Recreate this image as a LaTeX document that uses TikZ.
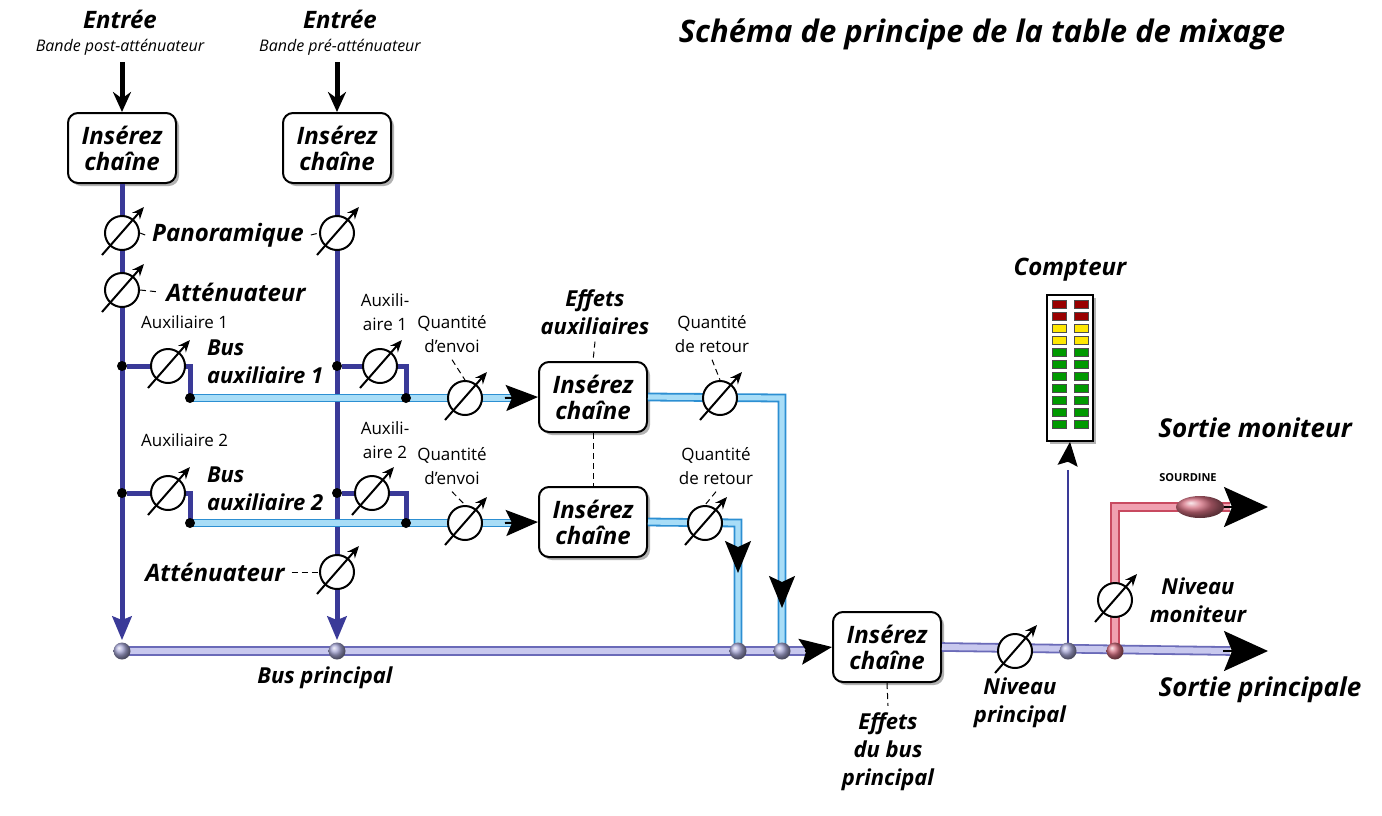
\documentclass[tikz,border=0pt]{standalone}
\usepackage{fontspec}
\setmainfont{Open Sans}
\usetikzlibrary{arrows.meta,shadows,shapes.geometric}
\definecolor{pur}{HTML}{3A3A98}
\definecolor{bluedk}{HTML}{2C8FD2}
\definecolor{bluelt}{HTML}{A8DDF7}
\definecolor{lavdk}{HTML}{6A6AB8}
\definecolor{lavlt}{HTML}{C8C8EE}
\definecolor{reddk}{HTML}{C84A60}
\definecolor{redlt}{HTML}{F0A0B0}
\tikzset{
  every node/.style={font=\bfseries\itshape\fontsize{12}{13}\selectfont},
  pline/.style={draw=pur,line width=2.5pt},
  thin/.style={draw=pur,line width=1.2pt},
  bbus/.style={draw=bluedk,double=bluelt,double distance=2.6pt,line width=0.9pt},
  mbus/.style={draw=lavdk,double=lavlt,double distance=3pt,line width=0.9pt},
  rbus/.style={draw=reddk,double=redlt,double distance=2.8pt,line width=0.9pt},
  big/.style={-{Stealth[length=16pt,width=13pt,inset=3pt]},line width=1pt,draw=black},
  huge/.style={-{Stealth[length=22pt,width=20pt,inset=4pt]},line width=1pt,draw=black},
  med/.style={-{Stealth[length=12pt,width=10pt,inset=2pt]},line width=1pt},
  pot/.style={circle,draw,line width=1pt,minimum size=17pt,inner sep=0pt,fill=white},
  box/.style={draw,rounded corners=5pt,line width=1pt,fill=white,minimum width=54pt,minimum height=35pt,inner sep=1pt,align=center,drop shadow={shadow xshift=1.5pt,shadow yshift=-1.5pt,fill=black!60}},
  lbl/.style={font=\itshape\fontsize{8}{10}\selectfont,align=center},
  nlbl/.style={font=\fontsize{8.5}{12}\selectfont,align=center},
  bl/.style={font=\bfseries\itshape\fontsize{11}{14}\selectfont,align=center},
  lead/.style={densely dashed,line width=0.5pt},
  dot/.style={circle,fill=black,inner sep=0pt,minimum size=5pt},
  ball/.style={circle,inner sep=0pt,minimum size=8.5pt,shading=ball,ball color=#1},
  led/.style={draw=black!70,line width=0.3pt,fill=#1,minimum width=7pt,minimum height=4pt,inner sep=0pt},
}
\newcommand\potat[2]{\node[pot] (#1) at (#2) {};
  \draw[line width=1pt,-{Stealth[length=6pt,width=5pt]}] ([shift={(-20,22)}]#1.center) -- ([shift={(22,-26)}]#1.center);}
\begin{document}
\begin{tikzpicture}[x=0.5pt,y=-0.5pt]
\useasboundingbox (0,0) rectangle (1382,815);
% title
\node[font=\bfseries\itshape\fontsize{15.5}{18}\selectfont] (title) at (982,34) {Schéma de principe de la table de mixage};
% inputs
\node (e1) at (120,19) {Entrée};
\node[lbl] (e1s) at (120,47) {Bande post-atténuateur};
\node (e2) at (340,19) {Entrée};
\node[lbl] (e2s) at (340,47) {Bande pré-atténuateur};
\node[box] (b1) at (122,148) {Insérez\\chaîne};
\node[box] (b2) at (337,148) {Insérez\\chaîne};
\draw[line width=2.5pt,-{Stealth[length=10pt,width=9pt]}] (122,62) -- (b1.north);
\draw[line width=2.5pt,-{Stealth[length=10pt,width=9pt]}] (337,62) -- (b2.north);
% bus coordinates
\coordinate (m1) at (122,651); \coordinate (m2) at (337,651);
\coordinate (m3) at (738,651); \coordinate (m4) at (782,651);
\coordinate (a1l) at (190,398); \coordinate (a1r) at (406,398);
\coordinate (a2l) at (190,523); \coordinate (a2r) at (406,523);
% verticals
\draw[pline] (b1.south) -- (122,620);
\draw[pline] (b2.south) -- (337,620);
\draw[med,draw=pur] (122,615) -- (122,640);
\draw[med,draw=pur] (337,615) -- (337,640);
% aux branches
\node[dot] (d11) at (122,366) {}; \node[dot] (d12) at (337,366) {};
\node[dot] (d21) at (122,493) {}; \node[dot] (d22) at (337,493) {};
\draw[pline] (d11) -- (190,366) -- (a1l);
\draw[pline] (d12) -- (406,366) -- (a1r);
\draw[pline] (d21) -- (190,493) -- (a2l);
\draw[pline] (d22) -- (406,493) -- (a2r);
% boxes
\node[box] (fx1) at (593,397) {Insérez\\chaîne};
\node[box] (fx2) at (593,522) {Insérez\\chaîne};
\node[box] (fxm) at (887,647) {Insérez\\chaîne};
% aux buses
\draw[bbus] (a1l) -- (515,398);
\draw[big] (505,398) -- (fx1.west);
\draw[bbus] (a2l) -- (515,523);
\draw[big] (505,523) -- (fx2.west);
\node[dot] at (a1l) {}; \node[dot] at (a1r) {};
\node[dot] at (a2l) {}; \node[dot] at (a2r) {};
% returns
\draw[bbus] (fx1.east) -- (782,398) -- (m4);
\draw[big] (782,585) -- (782,608);
\draw[bbus] (fx2.east) -- (738,523) -- (m3);
\draw[big] (738,550) -- (738,573);
% main bus
\draw[mbus] (m1) -- (815,651);
\draw[big] (805,651) -- (fxm.west);
\draw[mbus] (fxm.east) -- (1230,651);
\draw[huge] (1223,651) -- (1268,651);
\node[ball=lavdk!60] at (m1) {}; \node[ball=lavdk!60] at (m2) {};
\node[ball=lavdk!60] at (m3) {}; \node[ball=lavdk!60] at (m4) {};
% pots
\potat{p1}{122,233} \potat{p2}{122,290} \potat{p3}{337,233}
\potat{p4}{168,366} \potat{p5}{380,366}
\potat{p6}{168,493} \potat{p7}{372,493}
\potat{p8}{465,398} \potat{p9}{465,523}
\potat{p10}{720,398} \potat{p11}{705,523}
\potat{p12}{337,572}
% labels
\node (pan) at (228,235) {Panoramique};
\draw[lead] (p1.east) -- (pan.west); \draw[lead] (pan.east) -- (p3.west);
\node (att1) at (236,292) {Atténuateur};
\draw[lead] (p2.east) -- (att1.west);
\node (att2) at (215,572) {Atténuateur};
\draw[lead] (att2.east) -- (p12.west);
\node[nlbl,anchor=west] (ax1) at (134,322) {Auxiliaire 1};
\node[nlbl,anchor=west] (ax2) at (134,440) {Auxiliaire 2};
\node[bl,anchor=west,align=left] (ba1) at (200,362) {Bus\\auxiliaire 1};
\node[bl,anchor=west,align=left] (ba2) at (200,489) {Bus\\auxiliaire 2};
\node[nlbl] (ax1r) at (385,312) {Auxili-\\aire 1};
\node[nlbl] (ax2r) at (385,440) {Auxili-\\aire 2};
\node[nlbl] (qe1) at (452,334) {Quantité\\d’envoi};
\node[nlbl] (qe2) at (452,466) {Quantité\\d’envoi};
\node[nlbl] (qr1) at (712,334) {Quantité\\de retour};
\node[nlbl] (qr2) at (716,466) {Quantité\\de retour};
\draw[lead] (qe1.south) -- (p8.north); \draw[lead] (qe2.south) -- (p9.north);
\draw[lead] (qr1.south) -- (p10.north); \draw[lead] (qr2.south) -- (p11.north);
\node[bl] (efa) at (595,312) {Effets\\auxiliaires};
\draw[lead] (efa.south) -- (fx1.north);
\draw[lead] (fx1.south) -- (fx2.north);
\node[bl] (bp) at (325,678) {Bus principal};
\node[bl] (efm) at (888,752) {Effets\\du bus\\principal};
\draw[lead] (fxm.south) -- (efm.north);
% output section
\potat{p13}{1015,651}
\node[bl] (np) at (1020,703) {Niveau\\principal};
\coordinate (m5) at (1068,651); \coordinate (m6) at (1115,651);
\node[draw,fill=white,line width=0.8pt,minimum width=23pt,minimum height=73pt,inner sep=0pt,drop shadow={shadow xshift=1.5pt,shadow yshift=-1.5pt,fill=black!60}] (meter) at (1070,368) {};
\foreach \i/\c in {0/red!60!black,1/red!60!black,2/yellow!90!orange,3/yellow!90!orange,4/green!60!black,5/green!60!black,6/green!60!black,7/green!60!black,8/green!60!black,9/green!60!black,10/green!60!black}{
  \node[led=\c] at (1059,304+12*\i) {};
  \node[led=\c] at (1081,304+12*\i) {};
}
\node (cpt) at (1070,270) {Compteur};
\draw[thin] (m5) -- (1068,470);
\draw[med] (1068,462) -- (meter.south);
\draw[rbus] (m6) -- (1115,507) -- (1230,507);
\draw[huge] (1223,507) -- (1268,507);
\node[ellipse,minimum width=24pt,minimum height=11pt,inner sep=0pt,shading=ball,ball color=reddk!80] (mute) at (1200,507) {};
\node[font=\bfseries\fontsize{5.5}{6}\selectfont] (sd) at (1188,478) {SOURDINE};
\potat{p14}{1115,600}
\node[ball=lavdk!60] at (m5) {}; \node[ball=reddk!80] at (m6) {};
\node[bl] (nm) at (1198,600) {Niveau\\moniteur};
\node[font=\bfseries\itshape\fontsize{13}{15}\selectfont] (smo) at (1255,428) {Sortie moniteur};
\node[font=\bfseries\itshape\fontsize{13}{15}\selectfont] (spr) at (1260,690) {Sortie principale};
\end{tikzpicture}
\end{document}
